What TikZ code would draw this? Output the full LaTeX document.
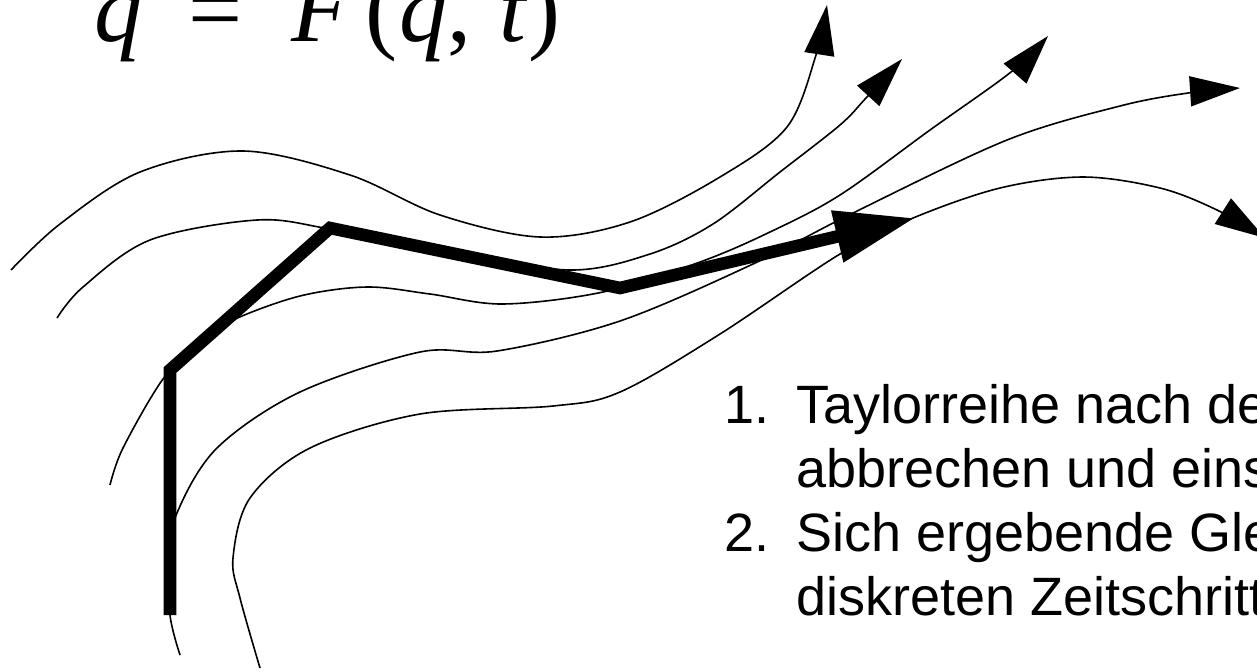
\documentclass[tikz,border=0pt]{standalone}
\usepackage{fontspec}
\setmainfont{Liberation Serif}
\newfontfamily\arialfont{Liberation Sans}
\usetikzlibrary{arrows.meta}
\begin{document}
\begin{tikzpicture}[x=0.5pt,y=-0.5pt,
  flow/.style={line width=0.8pt, -{Triangle[length=25pt,width=15pt]}},
  trajectory/.style={line width=6.3pt, line join=miter, line cap=butt, -{Triangle[length=40pt,width=25pt]}},
  formula/.style={anchor=base west, inner sep=0pt, outer sep=0pt, font=\fontsize{48pt}{50pt}\selectfont},
  item/.style={anchor=base west, inner sep=0pt, outer sep=0pt, font=\arialfont\fontsize{27pt}{32pt}\selectfont}
]
\useasboundingbox (0,0) rectangle (1257,671);
\clip (0,0) rectangle (1257,671);

% formula (top cropped)
\node[formula] (eq) at (94,41) {\textit{q}\kern23pt=\kern24.5pt\textit{F}\kern7.5pt(\kern1pt\textit{q},\kern14pt\textit{t})};

% thin flow lines
\draw[flow] plot[smooth, tension=0.55] coordinates {(11,270) (60,224) (140,172) (243,151) (350,175) (440,215) (540,237) (630,222) (720,177) (787,127) (816,55) (827,5)};
\draw[flow] plot[smooth, tension=0.55] coordinates {(57,318) (83,287) (150,240) (257,220) (330,229) (450,252) (570,270) (650,254) (713,224) (780,172) (840,125) (866,98) (902,59)};
\draw[flow] plot[smooth, tension=0.55] coordinates {(110,485) (123,448) (163,379) (200,343) (233,320) (300,296) (367,287) (430,294) (503,304) (603,292) (700,262) (770,232) (840,195) (930,130) (1011,72) (1048,36)};
\draw[flow] plot[smooth, tension=0.55] coordinates {(180,655) (170,615) (170,560) (177,513) (217,448) (300,392) (420,352) (497,351) (620,321) (753,264) (853,213) (1007,140) (1120,106) (1188,93) (1240,88)};
\draw[flow] plot[smooth, tension=0.55] coordinates {(260,668) (240,598) (233,558) (250,498) (310,448) (420,414) (553,406) (620,392) (720,334) (840,254) (913,218) (1000,188) (1083,177) (1160,188) (1217,210) (1265,238)};

% bold trajectory
\coordinate (s0) at (170,615);
\coordinate (s1) at (170,370);
\coordinate (s2) at (330,228);
\coordinate (s3) at (620,288);
\coordinate (s4) at (915,218);
\draw[trajectory] (s0) -- (s1) -- (s2) -- (s3) -- (s4);

% text
\node[item] (n1) at (724,423) {1.};
\node[item] (t1) at (796,423) {Taylorreihe nach de};
\node[item] (t2) at (796,487) {abbrechen und eins};
\node[item] (n2) at (724,551) {2.};
\node[item] (t3) at (796,551) {Sich ergebende Gle};
\node[item] (t4) at (796,615) {diskreten Zeitschritt};
\end{tikzpicture}
\end{document}
